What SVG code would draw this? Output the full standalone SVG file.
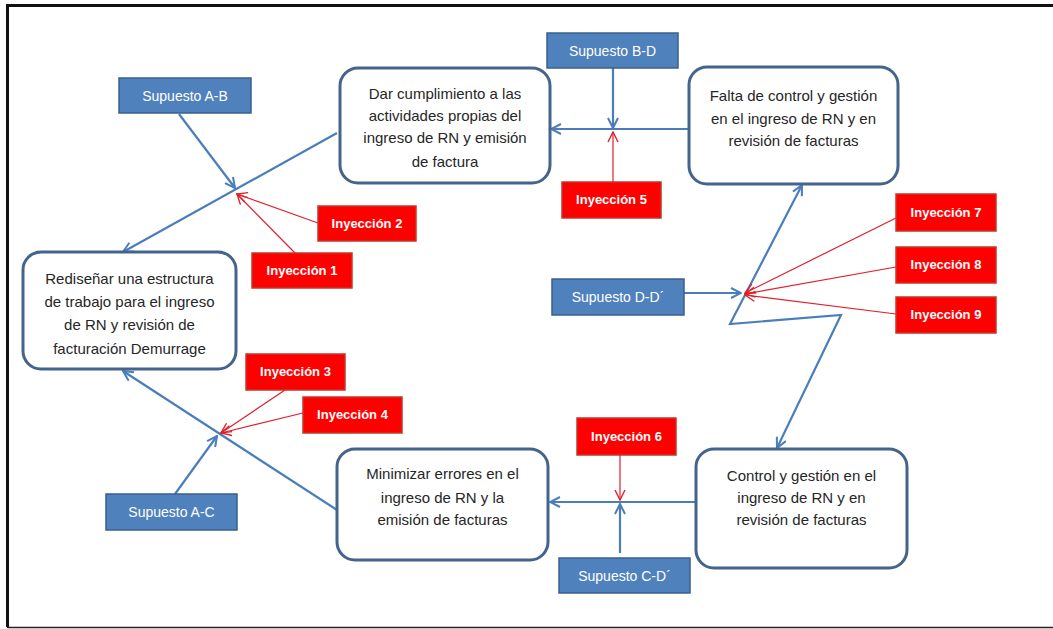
<svg xmlns="http://www.w3.org/2000/svg" width="1053" height="629" viewBox="0 0 1053 629">
<style>
.node rect{fill:#fff;stroke:#44648c;stroke-width:3}
.sup rect{fill:#4f81bd;stroke:#3a5f8c;stroke-width:1.5}
.iny rect{fill:#f00;stroke:#c0392b;stroke-width:1.5}
.nt{font-family:"Liberation Sans",Arial,sans-serif;font-size:15px;fill:#262626;text-anchor:middle}
.st{font-family:"Liberation Sans",Arial,sans-serif;font-size:14px;fill:#fff;text-anchor:middle}
.it{font-family:"Liberation Sans",Arial,sans-serif;font-size:13px;font-weight:bold;fill:#fff;text-anchor:middle}
.bl{fill:none;stroke:#4a7ebb;stroke-width:2.2;marker-end:url(#ab)}
.rl{fill:none;stroke:#e0202a;stroke-width:1.2;marker-end:url(#ar)}
</style>
<defs>
<marker id="ab" viewBox="0 0 12 12" refX="11" refY="6" markerWidth="12" markerHeight="12" markerUnits="userSpaceOnUse" orient="auto-start-reverse">
<path d="M1,1 L11,6 L1,11" fill="none" stroke="#4a7ebb" stroke-width="2"/>
</marker>
<marker id="ar" viewBox="0 0 12 12" refX="11" refY="6" markerWidth="12" markerHeight="12" markerUnits="userSpaceOnUse" orient="auto">
<path d="M1,1 L11,6 L1,11" fill="none" stroke="#e0202a" stroke-width="1.4"/>
</marker>
</defs>
<rect width="1053" height="629" fill="#fff"/>
<path d="M1053,5.5 L7.5,5.5 L7.5,627" fill="none" stroke="#111" stroke-width="3"/>
<line x1="7" y1="627.5" x2="1053" y2="627.5" stroke="#222" stroke-width="1.5"/>

<g id="connectors">
<line class="bl" x1="337" y1="133" x2="123" y2="252"/>
<line class="bl" x1="179" y1="114" x2="235" y2="188"/>
<line class="rl" x1="318" y1="223" x2="237" y2="194"/>
<line class="rl" x1="295" y1="253" x2="237" y2="194"/>
<line class="bl" x1="689" y1="129" x2="551" y2="129"/>
<line class="bl" x1="613" y1="68" x2="613" y2="128"/>
<line class="rl" x1="613" y1="182" x2="613" y2="132"/>
<polyline class="bl" style="marker-start:url(#ab)" points="777,448 841,315 730,324 802,185"/>
<line class="bl" x1="684" y1="293" x2="741" y2="293"/>
<line class="rl" x1="896" y1="218" x2="745" y2="293"/>
<line class="rl" x1="896" y1="267" x2="745" y2="294"/>
<line class="rl" x1="896" y1="314" x2="745" y2="295"/>
<line class="bl" x1="696" y1="502" x2="550" y2="502"/>
<line class="rl" x1="620" y1="455" x2="620" y2="500"/>
<line class="bl" x1="620" y1="553" x2="620" y2="504"/>
<line class="bl" x1="337" y1="510" x2="123" y2="371"/>
<line class="bl" x1="175" y1="494" x2="217" y2="436"/>
<line class="rl" x1="285" y1="390" x2="221" y2="433"/>
<line class="rl" x1="303" y1="413" x2="221" y2="433"/>
</g>

<g id="n-redisenar" class="node"><rect x="23" y="252" width="213" height="117" rx="18"/>
<text class="nt" x="129.5" y="284">Rediseñar una estructura</text>
<text class="nt" x="129.5" y="307">de trabajo para el ingreso</text>
<text class="nt" x="129.5" y="330">de RN y revisión de</text>
<text class="nt" x="129.5" y="354">facturación Demurrage</text></g>

<g id="n-dar" class="node"><rect x="340" y="68" width="210" height="115" rx="18"/>
<text class="nt" x="445" y="99">Dar cumplimiento a las</text>
<text class="nt" x="445" y="121">actividades propias del</text>
<text class="nt" x="445" y="143">ingreso de RN y emisión</text>
<text class="nt" x="445" y="167">de factura</text></g>

<g id="n-falta" class="node"><rect x="689" y="67" width="209" height="117" rx="18"/>
<text class="nt" x="793.5" y="101">Falta de control y gestión</text>
<text class="nt" x="793.5" y="124">en el ingreso de RN y en</text>
<text class="nt" x="793.5" y="146">revisión de facturas</text></g>

<g id="n-minimizar" class="node"><rect x="337" y="449" width="211" height="111" rx="18"/>
<text class="nt" x="442.5" y="479">Minimizar errores en el</text>
<text class="nt" x="442.5" y="503">ingreso de RN y la</text>
<text class="nt" x="442.5" y="525">emisión de facturas</text></g>

<g id="n-control" class="node"><rect x="696" y="449" width="211" height="119" rx="18"/>
<text class="nt" x="801.5" y="481">Control y gestión en el</text>
<text class="nt" x="801.5" y="503">ingreso de RN y en</text>
<text class="nt" x="801.5" y="525">revisión de facturas</text></g>

<g id="s-ab" class="sup"><rect x="119" y="78" width="132" height="35"/><text class="st" x="185" y="100.5">Supuesto A-B</text></g>
<g id="s-bd" class="sup"><rect x="547" y="33" width="131" height="35"/><text class="st" x="612.5" y="55.5">Supuesto B-D</text></g>
<g id="s-dd" class="sup"><rect x="552" y="279" width="132" height="36"/><text class="st" x="618" y="302">Supuesto D-D´</text></g>
<g id="s-ac" class="sup"><rect x="106" y="494" width="131" height="36"/><text class="st" x="171.5" y="517">Supuesto A-C</text></g>
<g id="s-cd" class="sup"><rect x="559" y="558" width="131" height="35"/><text class="st" x="624.5" y="580.5">Supuesto C-D´</text></g>

<g id="i1" class="iny"><rect x="252" y="253" width="100" height="35"/><text class="it" x="302" y="275">Inyección 1</text></g>
<g id="i2" class="iny"><rect x="318" y="206" width="98" height="35"/><text class="it" x="367" y="228">Inyección 2</text></g>
<g id="i3" class="iny"><rect x="246" y="354" width="99" height="36"/><text class="it" x="295.5" y="376">Inyección 3</text></g>
<g id="i4" class="iny"><rect x="303" y="397" width="99" height="36"/><text class="it" x="352.5" y="419">Inyección 4</text></g>
<g id="i5" class="iny"><rect x="562" y="182" width="99" height="36"/><text class="it" x="611.5" y="204">Inyección 5</text></g>
<g id="i6" class="iny"><rect x="577" y="418" width="99" height="37"/><text class="it" x="626.5" y="440.5">Inyección 6</text></g>
<g id="i7" class="iny"><rect x="896" y="194" width="100" height="37"/><text class="it" x="946" y="216.5">Inyección 7</text></g>
<g id="i8" class="iny"><rect x="896" y="247" width="100" height="36"/><text class="it" x="946" y="269">Inyección 8</text></g>
<g id="i9" class="iny"><rect x="896" y="297" width="100" height="36"/><text class="it" x="946" y="319">Inyección 9</text></g>
</svg>
